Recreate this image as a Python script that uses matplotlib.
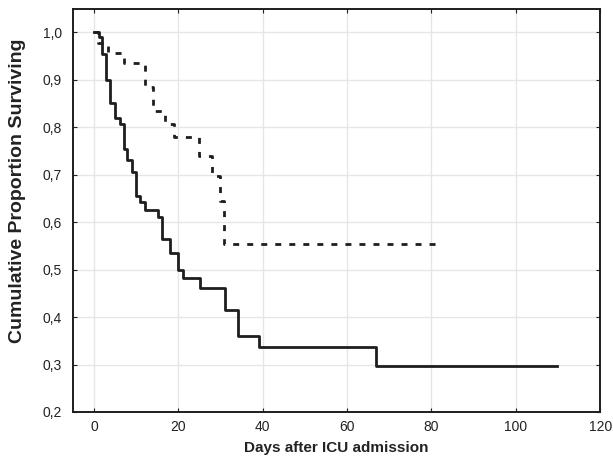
import matplotlib
matplotlib.use("Agg")
import matplotlib.pyplot as plt

plt.rcParams['font.family'] = ['Liberation Sans', 'DejaVu Sans']
plt.rcParams['lines.scale_dashes'] = False

# Group 1 (solid) step curve: event times (days) and survival after each step
solid_days = [0, 1.2, 1.9, 2.9, 3.9, 4.9, 6.1, 7.0, 7.9, 9.1, 9.9, 11.0, 12.1,
              15.2, 16.0, 18.0, 19.9, 21.0, 25.1, 31.1, 34.1, 39.1, 66.8, 109.8]
solid_surv = [1.0, 0.990, 0.954, 0.899, 0.852, 0.819, 0.807, 0.755, 0.731, 0.705,
              0.655, 0.643, 0.626, 0.610, 0.565, 0.535, 0.499, 0.482, 0.461,
              0.415, 0.361, 0.336, 0.296, 0.296]

# Group 2 (dashed) step curve
dashed_days = [0, 1.0, 3.2, 7.1, 12.1, 13.9, 16.9, 18.9, 24.9, 28.0, 29.9, 30.8, 82.6]
dashed_surv = [1.0, 0.978, 0.956, 0.936, 0.885, 0.834, 0.806, 0.780, 0.740,
               0.697, 0.645, 0.554, 0.554]

x_ticks = [0, 20, 40, 60, 80, 100, 120]
y_ticks = [0.2, 0.3, 0.4, 0.5, 0.6, 0.7, 0.8, 0.9, 1.0]
y_ticklabels = ['0,2', '0,3', '0,4', '0,5', '0,6', '0,7', '0,8', '0,9', '1,0']

fig = plt.figure(figsize=(6.13, 4.57), dpi=100)
ax = fig.add_axes([0.119, 0.0985, 0.860, 0.8811])

ax.step(solid_days, solid_surv, where='post', color='#1e1e1e', lw=2.0, zorder=3)
ln, = ax.step(dashed_days, dashed_surv, where='post', color='#1e1e1e', lw=2.0, zorder=3)
ln.set_dashes((4.3, 5.8))

ax.set_xlim(-5, 120)
ax.set_ylim(0.2, 1.0484)
ax.set_xticks(x_ticks)
ax.set_yticks(y_ticks)
ax.set_yticklabels(y_ticklabels)
ax.grid(True, color='#e6e6e6', lw=1.0, zorder=0)
ax.set_axisbelow(True)

ax.tick_params(direction='in', length=3, width=0.8, color='#222222',
               top=True, right=True, labelsize=10, labelcolor='#222222')
ax.tick_params(axis='y', pad=8)
ax.tick_params(axis='x', pad=6)
for sp in ax.spines.values():
    sp.set_linewidth(1.4)
    sp.set_color('#1e1e1e')

ax.set_xlabel('Days after ICU admission', fontsize=11, fontweight='bold',
              color='#222222', labelpad=5)
ax.set_ylabel('Cumulative Proportion Surviving', fontsize=14, fontweight='bold',
              color='#222222')
ax.yaxis.set_label_coords(-0.09, 0.55)

fig.savefig('out.png', dpi=100)
